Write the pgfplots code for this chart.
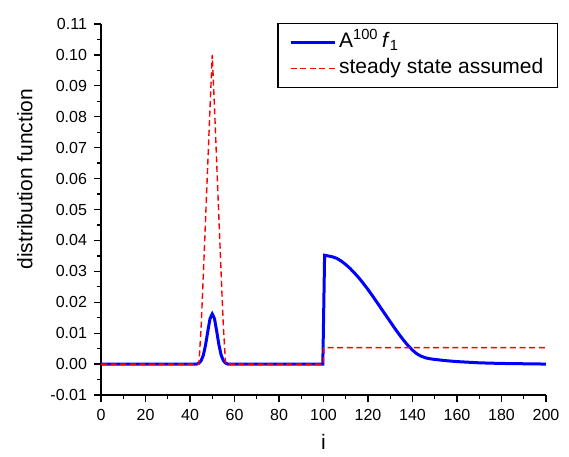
\documentclass[border=0pt]{standalone}
\usepackage{fontspec}
\setmainfont{Liberation Sans}
\usepackage{pgfplots}
\pgfplotsset{compat=1.18}

\begin{document}
\begin{tikzpicture}
\begin{axis}[
    width=222.5pt, height=185.5pt,
    scale only axis,
    clip=false,
    xmin=0, xmax=200,
    ymin=-0.01, ymax=0.11,
    axis lines=left,
    axis line style={-, line width=0.65pt},
    xtick={0,20,...,200},
    minor x tick num=1,
    ytick={-0.01,0,0.01,0.02,0.03,0.04,0.05,0.06,0.07,0.08,0.09,0.10,0.11},
    minor y tick num=1,
    tick align=outside,
    major tick length=3.5pt,
    minor tick length=2pt,
    every tick/.style={black, line width=0.65pt},
    /pgf/number format/assume math mode=true,
    yticklabel style={/pgf/number format/.cd, fixed, fixed zerofill, precision=2},
    scaled y ticks=false,
    tick label style={font=\fontsize{8}{9.6}\selectfont},
    label style={font=\fontsize{10.5}{12.6}\selectfont},
    xlabel={i},
    ylabel={distribution function},
    xlabel style={at={(axis description cs:0.5,-0.126)}, anchor=center},
    ylabel style={at={(axis description cs:-0.171,0.582)}, anchor=center},
    legend style={
        at={(axis description cs:1.027,1.003)}, anchor=north east,
        draw=black, line width=0.65pt,
        font=\fontsize{10.5}{12.6}\selectfont,
        inner xsep=5.5pt, inner ysep=3pt,
        nodes={inner sep=1.5pt, text height=7.5pt, text depth=2.5pt},
    },
    legend cell align=left,
    legend image code/.code={\draw[#1] plot coordinates {(0pt,0pt) (11pt,0pt) (22pt,0pt)};},
]
\addplot[blue, line width=1.5pt] coordinates {
(0,0) (43,0) (44,0.0003) (45,0.0011) (46,0.0029) (47,0.0062) (48,0.0106) (49,0.0147)
(50,0.0162) (51,0.0147) (52,0.0106) (53,0.0062) (54,0.0029) (55,0.0011) (56,0.0003) (57,0)
(99.7,0) (100.5,0.0352) (102,0.0350) (104,0.0347) (106,0.0342) (108,0.0333) (110,0.0322)
(112,0.0309) (114,0.0294) (116,0.0278) (118,0.0260) (120,0.0241) (122,0.0221)
(124,0.0200) (126,0.0179) (128,0.0158) (130,0.0137) (132,0.0116) (134,0.0096)
(136,0.0077) (138,0.0060) (140,0.0045) (142,0.0033) (144,0.0025) (146,0.0020)
(148,0.0017) (150,0.0015) (155,0.0011) (160,0.0008) (165,0.0006) (170,0.0004)
(180,0.0002) (190,0.0001) (200,0.0000)
};
\addlegendentry{A\textsuperscript{100}\,\textit{f}\textsubscript{1}}
\addplot[red, line width=0.7pt, dash pattern=on 3pt off 1.8pt] coordinates {
(0,0) (44,0) (45,0.012) (46,0.029) (47,0.047) (48,0.065) (49,0.083) (50,0.100)
(51,0.083) (52,0.065) (53,0.047) (54,0.029) (55,0.012) (56,0) (100,0)
(100,0.0053) (200,0.0053)
};
\addlegendentry{steady state assumed}
\path (axis description cs:-0.227,-0.151) rectangle (axis description cs:1.0517,1.0647);
\end{axis}
\end{tikzpicture}
\end{document}
